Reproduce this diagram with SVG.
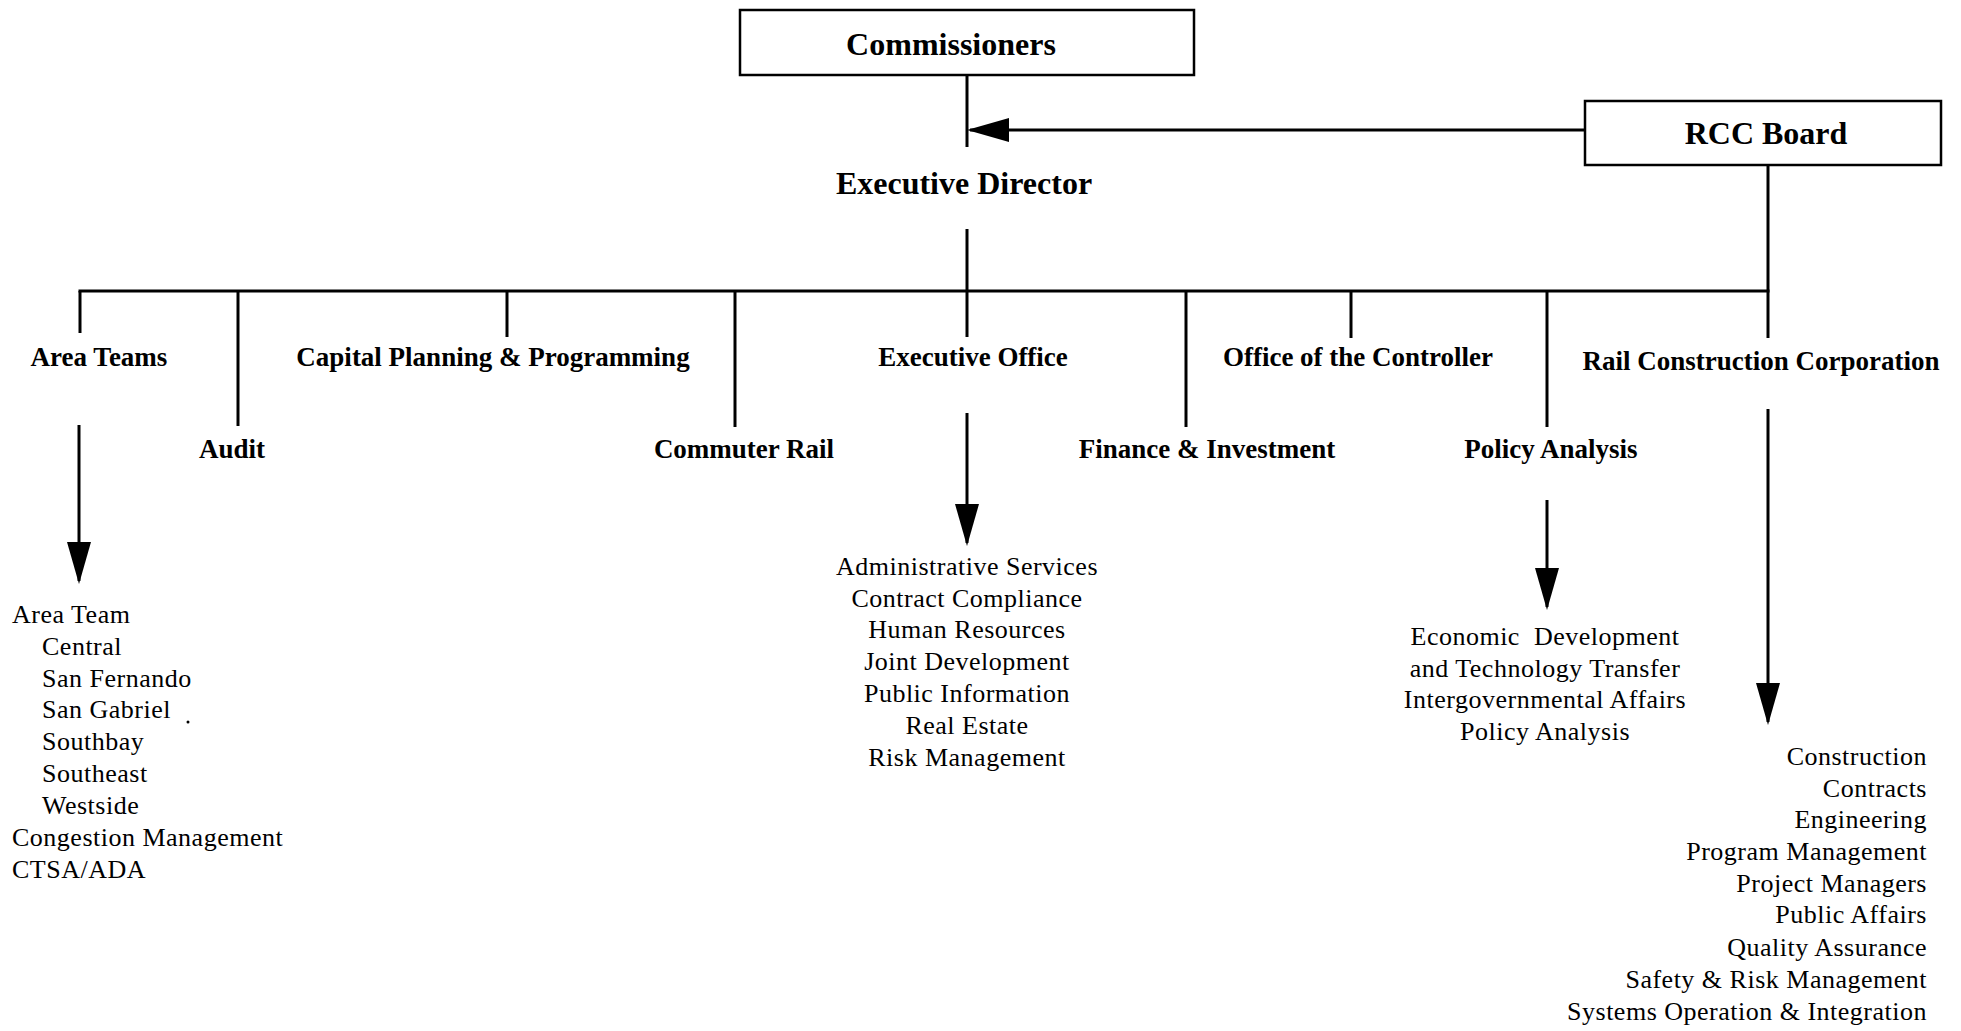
<svg xmlns="http://www.w3.org/2000/svg" width="1961" height="1031" viewBox="0 0 1961 1031">
<style>
  .bg { fill: #ffffff; }
  .box { fill: #ffffff; stroke: #000; stroke-width: 2.5; }
  .ln { stroke: #000; stroke-width: 3; fill: none; }
  .t1 { font-family: "Liberation Serif", "Times New Roman", serif; font-weight: bold; font-size: 32px; fill: #000; text-anchor: middle; }
  .t2 { font-family: "Liberation Serif", "Times New Roman", serif; font-weight: bold; font-size: 27px; fill: #000; text-anchor: middle; }
  .li { font-family: "Liberation Serif", "Times New Roman", serif; font-size: 26px; letter-spacing: 0.5px; fill: #000; }
  .c { text-anchor: middle; }
  .r { text-anchor: end; }
</style>
<defs>
  <marker id="ah" viewBox="0 0 42 24" refX="39" refY="12" markerWidth="42" markerHeight="24" markerUnits="userSpaceOnUse" orient="auto">
    <path d="M0,0 L42,12 L0,24 Z" fill="#000"/>
  </marker>
</defs>
<rect class="bg" x="0" y="0" width="1961" height="1031"/>

<g id="connectors">
  <line class="ln" x1="967" y1="75" x2="967" y2="147"/>
  <line class="ln" x1="1585" y1="130" x2="970" y2="130" marker-end="url(#ah)"/>
  <line class="ln" x1="967" y1="229" x2="967" y2="337"/>
  <line class="ln" x1="1768" y1="165" x2="1768" y2="338"/>
  <line class="ln" x1="78.5" y1="291" x2="1769.5" y2="291"/>
  <line class="ln" x1="80" y1="291" x2="80" y2="333"/>
  <line class="ln" x1="238" y1="291" x2="238" y2="426"/>
  <line class="ln" x1="507" y1="291" x2="507" y2="337"/>
  <line class="ln" x1="735" y1="291" x2="735" y2="427"/>
  <line class="ln" x1="1186" y1="291" x2="1186" y2="427"/>
  <line class="ln" x1="1351" y1="291" x2="1351" y2="338"/>
  <line class="ln" x1="1547" y1="291" x2="1547" y2="427"/>
  <line class="ln" x1="79" y1="425" x2="79" y2="581" marker-end="url(#ah)"/>
  <line class="ln" x1="967" y1="413" x2="967" y2="543" marker-end="url(#ah)"/>
  <line class="ln" x1="1547" y1="500" x2="1547" y2="607" marker-end="url(#ah)"/>
  <line class="ln" x1="1768" y1="409" x2="1768" y2="722" marker-end="url(#ah)"/>
</g>

<g id="commissioners">
  <rect class="box" x="740" y="10" width="454" height="65"/>
  <text class="t1" x="951" y="55">Commissioners</text>
</g>
<g id="rcc-board">
  <rect class="box" x="1585" y="101" width="356" height="64"/>
  <text class="t1" x="1766" y="144">RCC Board</text>
</g>
<g id="executive-director">
  <text class="t1" x="964" y="194">Executive Director</text>
</g>

<g id="area-teams"><text class="t2" x="99" y="366">Area Teams</text></g>
<g id="audit"><text class="t2" x="232" y="458">Audit</text></g>
<g id="capital-planning"><text class="t2" x="493" y="366">Capital Planning &amp; Programming</text></g>
<g id="commuter-rail"><text class="t2" x="744" y="458">Commuter Rail</text></g>
<g id="executive-office"><text class="t2" x="973" y="366">Executive Office</text></g>
<g id="finance-investment"><text class="t2" x="1207" y="458">Finance &amp; Investment</text></g>
<g id="office-controller"><text class="t2" x="1358" y="366">Office of the Controller</text></g>
<g id="policy-analysis"><text class="t2" x="1551" y="458">Policy Analysis</text></g>
<g id="rail-construction"><text class="t2" x="1761" y="370">Rail Construction Corporation</text></g>

<g id="area-teams-list">
  <text class="li" x="12" y="623">Area Team</text>
  <text class="li" x="42" y="655">Central</text>
  <text class="li" x="42" y="687">San Fernando</text>
  <text class="li" x="42" y="718">San Gabriel</text>
  <circle cx="188" cy="722" r="1.5" fill="#000"/>
  <text class="li" x="42" y="750">Southbay</text>
  <text class="li" x="42" y="782">Southeast</text>
  <text class="li" x="42" y="814">Westside</text>
  <text class="li" x="12" y="846">Congestion Management</text>
  <text class="li" x="12" y="878">CTSA/ADA</text>
</g>

<g id="executive-office-list">
  <text class="li c" x="967" y="575">Administrative Services</text>
  <text class="li c" x="967" y="607">Contract Compliance</text>
  <text class="li c" x="967" y="638">Human Resources</text>
  <text class="li c" x="967" y="670">Joint Development</text>
  <text class="li c" x="967" y="702">Public Information</text>
  <text class="li c" x="967" y="734">Real Estate</text>
  <text class="li c" x="967" y="766">Risk Management</text>
</g>

<g id="policy-analysis-list">
  <text class="li c" x="1545" y="645" xml:space="preserve">Economic  Development</text>
  <text class="li c" x="1545" y="677">and Technology Transfer</text>
  <text class="li c" x="1545" y="708">Intergovernmental Affairs</text>
  <text class="li c" x="1545" y="740">Policy Analysis</text>
</g>

<g id="rail-construction-list">
  <text class="li r" x="1927" y="765">Construction</text>
  <text class="li r" x="1927" y="797">Contracts</text>
  <text class="li r" x="1927" y="828">Engineering</text>
  <text class="li r" x="1927" y="860">Program Management</text>
  <text class="li r" x="1927" y="892">Project Managers</text>
  <text class="li r" x="1927" y="923">Public Affairs</text>
  <text class="li r" x="1927" y="956">Quality Assurance</text>
  <text class="li r" x="1927" y="988">Safety &amp; Risk Management</text>
  <text class="li r" x="1927" y="1020">Systems Operation &amp; Integration</text>
</g>
</svg>
